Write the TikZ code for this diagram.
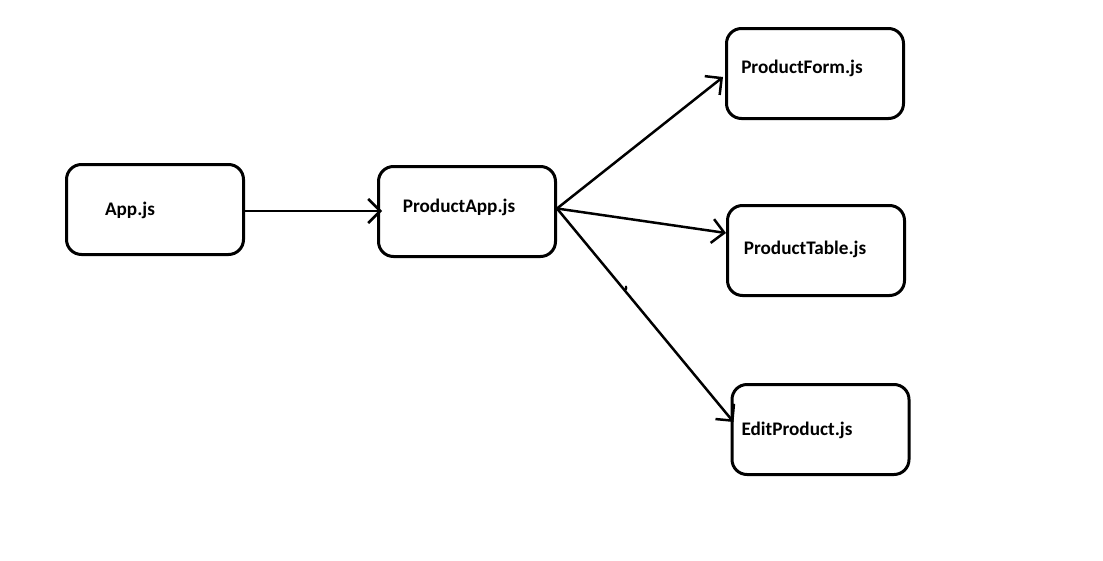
\documentclass[tikz,border=0pt]{standalone}
\usepackage{fontspec}
\setmainfont{Carlito}
\usetikzlibrary{arrows.meta}
\begin{document}
\begin{tikzpicture}[x=1pt,y=-1pt,
  box/.style={draw=black,line width=3pt,rounded corners=15pt,minimum width=177pt,minimum height=90pt,inner sep=0pt},
  txt/.style={font=\fontsize{19.2}{22}\selectfont\bfseries,inner sep=0pt},
  arr/.style={draw=black,line width=2.5pt,-{Straight Barb[length=12pt,width=24pt]}}]
\useasboundingbox (0,0) rectangle (1103,560);
% boxes
\node[box] (app) at (155,209.5) {};
\node[box] (pa)  at (467,211.5) {};
\node[box] (pf)  at (815,73.5) {};
\node[box] (pt)  at (816,250.5) {};
\node[box] (ep)  at (820.5,429.5) {};
% file names
\node[txt] (tapp) at (130,210) {App.js};
\node[txt] (tpa)  at (459,207) {ProductApp.js};
\node[txt] (tpf)  at (802,68) {ProductForm.js};
\node[txt] (tpt)  at (805,249) {ProductTable.js};
\node[txt] (tep)  at (797,430) {EditProduct.js};
% connectors
\draw[arr] ([yshift=-1.5pt]app.east) -- ([xshift=5pt,yshift=0.5pt]pa.west);
\draw[arr] ([yshift=3pt]pa.east) -- ([xshift=-2pt,yshift=-3.5pt]pf.west);
\draw[arr] ([yshift=3pt]pa.east) -- ([yshift=17.5pt]pt.west);
\draw[arr] ([yshift=3pt]pa.east) -- ([xshift=3pt,yshift=7.5pt]ep.west);
% small stray mark on the lower connector
\coordinate (dot) at (626,288);
\fill[black] (dot) ellipse (1.3pt and 2.5pt);
\end{tikzpicture}
\end{document}
